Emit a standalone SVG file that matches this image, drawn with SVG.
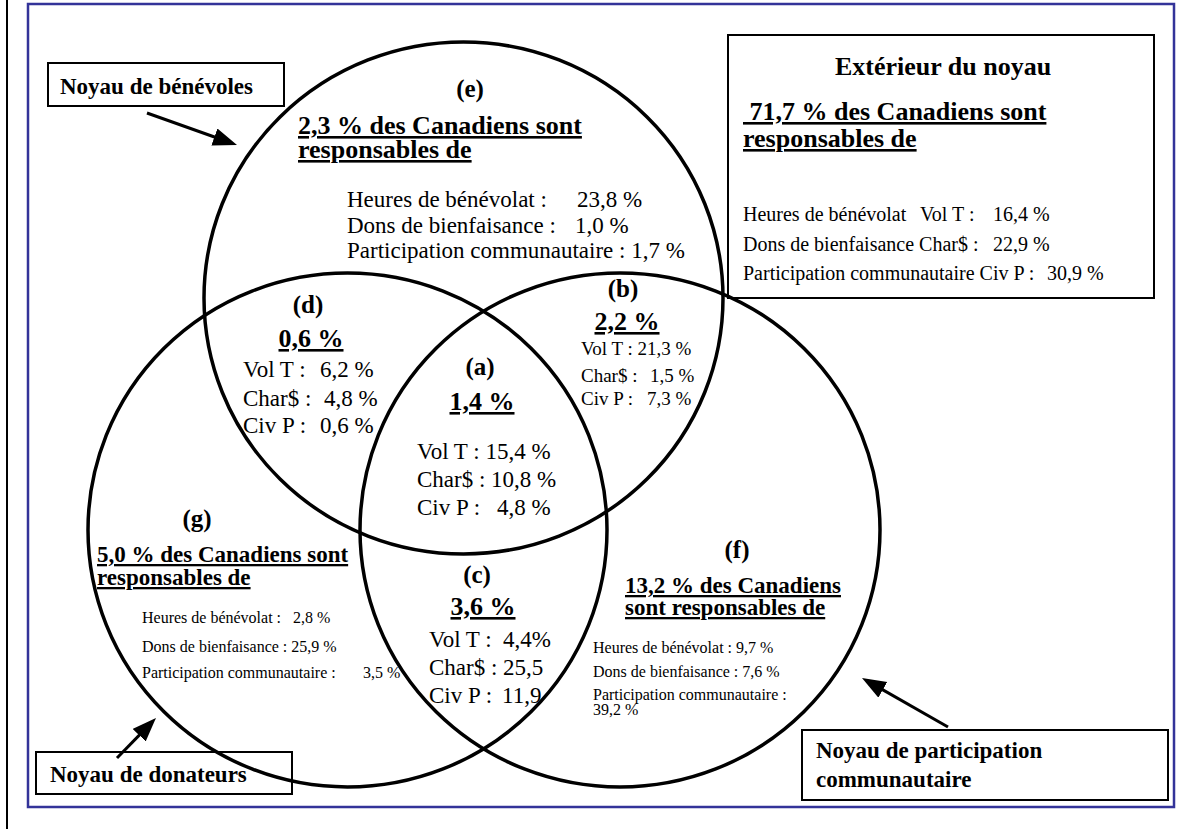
<svg xmlns="http://www.w3.org/2000/svg" width="1189" height="829" viewBox="0 0 1189 829">
<style>
text{font-family:"Liberation Serif","Times New Roman",serif;fill:#000}
.b{font-weight:bold}
.lbl{font-size:25px;font-weight:bold;text-anchor:middle}
.pct{font-size:26px;font-weight:bold;text-anchor:middle;text-decoration:underline}
.h26{font-size:26px;font-weight:bold;text-decoration:underline}
.h23{font-size:23px;font-weight:bold;text-decoration:underline}
.t23{font-size:23px}
.t20{font-size:20px}
.t19{font-size:19px}
.t16{font-size:16px}
.circ{fill:none;stroke:#000;stroke-width:3.5}
.box{fill:none;stroke:#000;stroke-width:2}
.arr{stroke:#000;stroke-width:3;fill:none}
</style>
<defs>
<marker id="ah" markerUnits="userSpaceOnUse" markerWidth="26" markerHeight="20" refX="12" refY="9" orient="auto">
<path d="M0,0 L24,9 L0,18 z" fill="#000"/>
</marker>
</defs>
<rect width="1189" height="829" fill="#fff"/>
<line x1="7" y1="0" x2="7" y2="829" stroke="#000" stroke-width="2"/>
<rect x="28" y="4" width="1146" height="803" fill="none" stroke="#333399" stroke-width="2.5"/>

<g id="circle-benevoles"><ellipse class="circ" cx="463.5" cy="298" rx="259.5" ry="256"/></g>
<g id="circle-donateurs"><ellipse class="circ" cx="347.5" cy="530" rx="259.5" ry="257"/></g>
<g id="circle-participation"><ellipse class="circ" cx="620" cy="530" rx="260" ry="257"/></g>

<g id="region-e">
<text class="lbl" x="470" y="97">(e)</text>
<text class="h26" x="298" y="134">2,3 % des Canadiens sont</text>
<text class="h26" x="298" y="158">responsables de</text>
<text class="t23" x="347" y="207">Heures de bénévolat :<tspan x="577">23,8 %</tspan></text>
<text class="t23" x="347" y="233">Dons de bienfaisance :<tspan x="575">1,0 %</tspan></text>
<text class="t23" x="347" y="258">Participation communautaire : 1,7 %</text>
</g>

<g id="region-d">
<text class="lbl" x="308" y="313">(d)</text>
<text class="pct" x="311" y="347">0,6 %</text>
<text class="t23" x="243" y="377">Vol T :<tspan x="320">6,2 %</tspan></text>
<text class="t23" x="243" y="406">Char$ :<tspan x="324">4,8 %</tspan></text>
<text class="t23" x="243" y="433">Civ P :<tspan x="320">0,6 %</tspan></text>
</g>

<g id="region-a">
<text class="lbl" x="480" y="375">(a)</text>
<text class="pct" x="482" y="410">1,4 %</text>
<text class="t23" x="417" y="459">Vol T : 15,4 %</text>
<text class="t23" x="417" y="487">Char$ : 10,8 %</text>
<text class="t23" x="417" y="515">Civ P :<tspan x="497">4,8 %</tspan></text>
</g>

<g id="region-b">
<text class="lbl" x="623" y="297">(b)</text>
<text class="pct" x="627" y="330">2,2 %</text>
<text class="t19" x="581" y="355">Vol T : 21,3 %</text>
<text class="t19" x="581" y="382">Char$ :<tspan x="650">1,5 %</tspan></text>
<text class="t19" x="581" y="405">Civ P :<tspan x="647">7,3 %</tspan></text>
</g>

<g id="region-c">
<text class="lbl" x="477" y="583">(c)</text>
<text class="pct" x="483" y="615">3,6 %</text>
<text class="t23" x="429" y="647">Vol T :<tspan x="503">4,4%</tspan></text>
<text class="t23" x="429" y="675">Char$ : 25,5</text>
<text class="t23" x="429" y="703">Civ P :<tspan x="502">11,9</tspan></text>
</g>

<g id="region-g">
<text class="lbl" x="197" y="527">(g)</text>
<text class="h23" x="97" y="562">5,0 % des Canadiens sont</text>
<text class="h23" x="97" y="585">responsables de</text>
<text class="t16" x="142" y="623">Heures de bénévolat :<tspan x="293">2,8 %</tspan></text>
<text class="t16" x="142" y="652">Dons de bienfaisance : 25,9 %</text>
<text class="t16" x="142" y="678">Participation communautaire :<tspan x="363">3,5 %</tspan></text>
</g>

<g id="region-f">
<text class="lbl" x="737" y="558">(f)</text>
<text class="h23" x="625" y="593">13,2 % des Canadiens</text>
<text class="h23" x="625" y="615">sont responsables de</text>
<text class="t16" x="593" y="653">Heures de bénévolat : 9,7 %</text>
<text class="t16" x="593" y="677">Dons de bienfaisance : 7,6 %</text>
<text class="t16" x="593" y="700">Participation communautaire :</text>
<text class="t16" x="593" y="715">39,2 %</text>
</g>

<g id="box-exterieur">
<rect class="box" x="728" y="35" width="426" height="263" fill="#fff"/>
<text class="b" font-size="26" x="943" y="75" text-anchor="middle">Extérieur du noyau</text>
<text class="h26" x="743" y="120" xml:space="preserve"> 71,7 % des Canadiens sont</text>
<text class="h26" x="743" y="147">responsables de</text>
<text class="t20" x="743" y="221">Heures de bénévolat<tspan x="920">Vol T :</tspan><tspan x="993">16,4 %</tspan></text>
<text class="t20" x="743" y="251">Dons de bienfaisance Char$ :<tspan x="993">22,9 %</tspan></text>
<text class="t20" x="743" y="280">Participation communautaire Civ P :<tspan x="1047">30,9 %</tspan></text>
</g>

<g id="label-benevoles">
<rect class="box" x="48" y="63" width="236" height="43"/>
<text class="b" font-size="23" x="60" y="94">Noyau de bénévoles</text>
</g>

<g id="label-donateurs">
<rect class="box" x="36" y="752" width="256" height="42"/>
<text class="b" font-size="23" x="50" y="782">Noyau de donateurs</text>
</g>

<g id="label-participation">
<rect class="box" x="802" y="730" width="366" height="70"/>
<text class="b" font-size="23" x="816" y="758">Noyau de participation</text>
<text class="b" font-size="23" x="816" y="787">communautaire</text>
</g>

<g id="connectors">
<line class="arr" x1="147" y1="113" x2="225.7" y2="141" marker-end="url(#ah)"/>
<line class="arr" x1="117" y1="758" x2="147.6" y2="726.6" marker-end="url(#ah)"/>
<line class="arr" x1="948" y1="727" x2="872.4" y2="683.9" marker-end="url(#ah)"/>
</g>
</svg>
